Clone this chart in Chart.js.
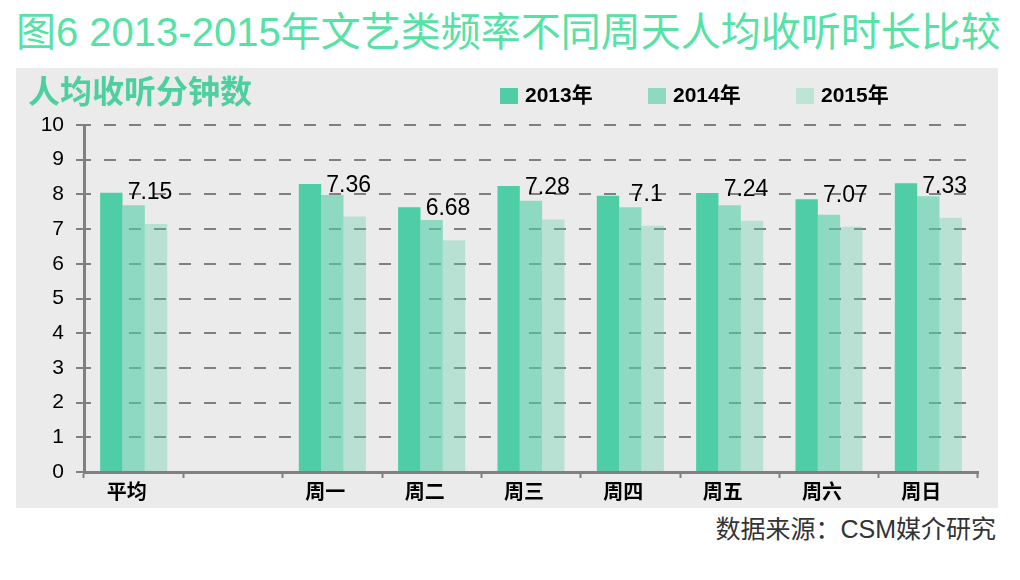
<!DOCTYPE html>
<html>
<head>
<meta charset="utf-8">
<script src="https://cdn.jsdelivr.net/npm/chart.js@4.4.0/dist/chart.umd.min.js"></script>
<style>
  body { margin: 0; width: 1020px; height: 580px; background: #fff; position: relative; overflow: hidden;
         font-family: "Liberation Sans", Arial, "Noto Sans CJK SC", sans-serif; }
  #title { position: absolute; left: 16px; top: 12px; font-size: 40px; line-height: 40px; color: #55e3a5; white-space: nowrap; }
  #panel { position: absolute; left: 16px; top: 68px; width: 982px; height: 440px; background: #ebebeb; }
  #ytitle { position: absolute; left: 12px; top: 8px; font-size: 32px; line-height: 32px; font-weight: bold; color: #4ecfa0; white-space: nowrap; }
  #source { position: absolute; right: 24px; top: 515px; font-size: 25px; line-height: 28px; color: #333; white-space: nowrap; }
</style>
</head>
<body>
<div id="title">图6 2013-2015年文艺类频率不同周天人均收听时长比较</div>
<div id="panel">
  <canvas id="barChart" width="982" height="440"></canvas>
  <div id="ytitle">人均收听分钟数</div>
</div>
<div id="source">数据来源：CSM媒介研究</div>
<script>
// data
var categories = ['平均', '', '周一', '周二', '周三', '周四', '周五', '周六', '周日'];
var seriesNames = ['2013年', '2014年', '2015年'];
var values2013 = [8.05, null, 8.30, 7.63, 8.24, 7.96, 8.04, 7.86, 8.32];
var values2014 = [7.69, null, 7.98, 7.26, 7.82, 7.63, 7.69, 7.41, 7.95];
var values2015 = [7.15, null, 7.36, 6.68, 7.28, 7.1, 7.24, 7.07, 7.33];
var yTicks = [0, 1, 2, 3, 4, 5, 6, 7, 8, 9, 10];

var colors = ['rgb(78,205,166)', 'rgba(78,205,166,0.6)', 'rgba(78,205,166,0.32)'];
var legendColors = ['#4ecda6', '#8dd9c2', '#bce5d6'];
var fontFamily = '"Liberation Sans", Arial, "Noto Sans CJK SC", sans-serif';

// value labels above the 2015 bars
var valueLabels = {
    id: 'valueLabels',
    afterDatasetsDraw: function (chart) {
        var ctx = chart.ctx;
        var meta = chart.getDatasetMeta(2);
        ctx.save();
        ctx.font = '23px ' + fontFamily;
        ctx.fillStyle = '#000';
        ctx.textAlign = 'center';
        ctx.textBaseline = 'alphabetic';
        meta.data.forEach(function (bar, i) {
            var v = values2015[i];
            if (v === null) return;
            ctx.fillText(String(v), bar.x - 6, bar.y - 25);
        });
        ctx.restore();
    }
};

// legend placed like the original
var customLegend = {
    id: 'customLegend',
    afterDraw: function (chart) {
        var ctx = chart.ctx;
        ctx.save();
        ctx.font = 'bold 21px ' + fontFamily;
        ctx.textBaseline = 'middle';
        ctx.fillStyle = '#000';
        chart.data.datasets.forEach(function (ds, i) {
            var x = 484 + i * 148;
            ctx.fillStyle = legendColors[i];
            ctx.fillRect(x, 20, 18, 16);
            ctx.fillStyle = '#000';
            ctx.fillText(ds.label, x + 25, 28);
        });
        ctx.restore();
    }
};

var ctxBar = document.getElementById('barChart').getContext('2d');
var barChart = new Chart(ctxBar, {
    type: 'bar',
    data: {
        labels: categories,
        datasets: [
            { label: seriesNames[0], data: values2013, backgroundColor: colors[0] },
            { label: seriesNames[1], data: values2014, backgroundColor: colors[1] },
            { label: seriesNames[2], data: values2015, backgroundColor: colors[2] }
        ]
    },
    options: {
        responsive: false,
        animation: false,
        layout: { padding: { top: 57, right: 20, left: 0, bottom: 0 } },
        datasets: { bar: { categoryPercentage: 0.675, barPercentage: 1 } },
        plugins: {
            legend: { display: false },
            tooltip: { enabled: false }
        },
        scales: {
            x: {
                afterFit: function (scale) { scale.height = 36; },
                grid: { drawOnChartArea: false, drawTicks: true, tickLength: 6, tickColor: '#808080', tickWidth: 2, offset: true },
                border: { color: '#808080', width: 3 },
                ticks: { color: '#000', font: { family: fontFamily, size: 20, weight: 'bold' }, padding: 3, labelOffset: -7, maxRotation: 0, autoSkip: false }
            },
            y: {
                min: 0,
                max: 10,
                afterFit: function (scale) { scale.width = 68; },
                afterBuildTicks: function (scale) { scale.ticks = yTicks.map(function (v) { return { value: v }; }); },
                grid: { color: '#808080', lineWidth: 2, tickLength: 8, tickColor: '#808080', tickWidth: 2 },
                border: { color: '#808080', width: 3, dash: [12, 13], dashOffset: 7 },
                ticks: { color: '#000', font: { family: fontFamily, size: 21 }, padding: 12 }
            }
        }
    },
    plugins: [valueLabels, customLegend]
});
</script>
</body>
</html>
